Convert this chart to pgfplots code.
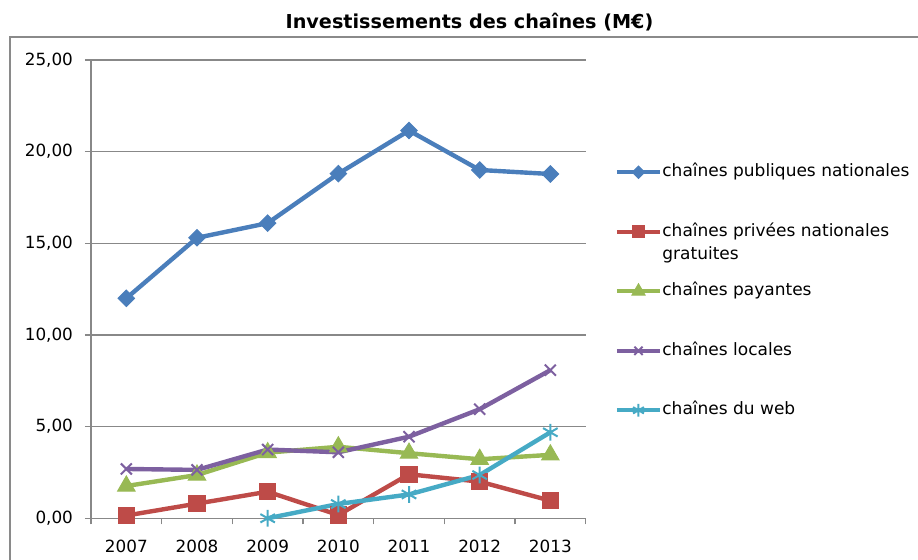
\documentclass[border=0pt]{standalone}
\usepackage{fontspec}
\setmainfont{DejaVu Sans}
\usepackage{pgfplots}
\pgfplotsset{compat=1.18}
\definecolor{cblue}{HTML}{4A7EBB}
\definecolor{cred}{HTML}{BE4B48}
\definecolor{cgreen}{HTML}{98B954}
\definecolor{cpurple}{HTML}{7D60A0}
\definecolor{ccyan}{HTML}{46AAC5}
\definecolor{axgray}{HTML}{888888}
\definecolor{framegray}{HTML}{8A8A8A}
\begin{document}
\begin{tikzpicture}
\useasboundingbox (0,0) rectangle (459pt,280pt);
\draw[framegray, line width=1pt] (5pt,-1pt) -- (5pt,261.35pt) -- (460pt,261.35pt);
\node[font=\bfseries\fontsize{9.6}{11}\selectfont] at (234.75pt,269pt) {Investissements des chaînes (M€)};
\begin{axis}[
 at={(45.5pt,20.85pt)}, anchor=south west,
 scale only axis, width=247.35pt, height=229.15pt,
 xmin=-0.5, xmax=6.5, ymin=0, ymax=25,
 clip=false,
 axis lines=left, axis line style={draw=axgray, line width=0.6pt, -},
 xtick={-0.5,0.5,...,6.5},
 xticklabels={2007,2008,2009,2010,2011,2012,2013,{}},
 xticklabel style={xshift=17.67pt, yshift=-4.5pt},
 yticklabel style={xshift=-2.5pt},
 ytick={0,5,...,25},
 ymajorgrids, grid style={draw=axgray, line width=0.6pt},
 tick align=outside, major tick length=3pt,
 tick style={draw=axgray, line width=0.6pt},
 /pgf/number format/assume math mode=true,
 yticklabel={\pgfmathprintnumber[fixed,fixed zerofill,precision=2,use comma]{\tick}},
 ticklabel style={font=\fontsize{8.4}{10}\selectfont, text=black},
 legend cell align=left,
 legend style={draw=none, fill=none, at={(axis description cs:1.0633,0.7735)}, anchor=north west,
   inner sep=0pt, outer sep=0pt, row sep=21.25pt, column sep=1.2pt,
   font=\fontsize{8.5}{11.7}\selectfont,
   nodes={inner sep=0pt, text height=6.5pt, text depth=2pt}},
 legend image code/.code={%
   \begin{pgfinterruptboundingbox}
   \draw[mark repeat=2,mark phase=2,every mark/.append style={scale=0.75}] plot coordinates {(0pt,0pt)(10.75pt,0pt)(21.5pt,0pt)};
   \end{pgfinterruptboundingbox}
   \path[draw=none,fill=none] (0pt,-3pt) rectangle (21.5pt,3pt);},
]
\addplot[cblue, line width=2.2pt, mark=square*, mark size=2.9pt, mark options={rotate=45, fill=cblue, draw=cblue, line width=0.5pt}]
 coordinates {(0,12.0)(1,15.3)(2,16.1)(3,18.8)(4,21.15)(5,19.0)(6,18.78)};
\addlegendentry{chaînes publiques nationales}
\addplot[cred, line width=2.2pt, mark=square*, mark size=4.1pt, mark options={fill=cred, draw=cred, line width=0.5pt}]
 coordinates {(0,0.15)(1,0.8)(2,1.45)(3,0.18)(4,2.4)(5,2.0)(6,0.96)};
\addlegendentry{\raisebox{0pt}[\height][0pt]{\begin{tabular}[t]{@{}l@{}}chaînes privées nationales\\gratuites\end{tabular}}}
\addplot[cgreen, line width=2.2pt, mark=triangle*, mark size=5pt, mark options={fill=cgreen, draw=cgreen, line width=0.5pt}]
 coordinates {(0,1.76)(1,2.36)(2,3.58)(3,3.9)(4,3.55)(5,3.22)(6,3.46)};
\addlegendentry{chaînes payantes}
\addplot[cpurple, line width=2.2pt, mark=x, mark size=3.9pt, mark options={draw=cpurple, line width=1pt}]
 coordinates {(0,2.69)(1,2.64)(2,3.75)(3,3.6)(4,4.45)(5,5.95)(6,8.08)};
\addlegendentry{chaînes locales}
\addplot[ccyan, line width=2.2pt, mark=asterisk, mark size=4.2pt, mark options={draw=ccyan, line width=1pt}]
 coordinates {(2,0.0)(3,0.78)(4,1.3)(5,2.36)(6,4.69)};
\addlegendentry{chaînes du web}
\end{axis}
\end{tikzpicture}
\end{document}
